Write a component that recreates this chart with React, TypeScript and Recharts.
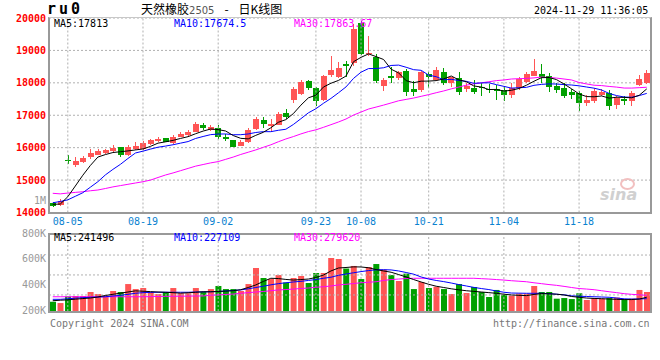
import React from 'react';
import { ComposedChart, Bar, Line, XAxis, YAxis, CartesianGrid, ReferenceLine, Cell } from 'recharts';

// trading days shown on the chart
const dates = ['08-01','08-02','08-05','08-06','08-07','08-08','08-09','08-12','08-13','08-14','08-15','08-16','08-19','08-20','08-21','08-22','08-23','08-26','08-27','08-28','08-29','08-30','09-02','09-03','09-04','09-05','09-06','09-09','09-10','09-11','09-12','09-13','09-18','09-19','09-20','09-23','09-24','09-25','09-26','09-27','09-30','10-08','10-09','10-10','10-11','10-14','10-15','10-16','10-17','10-18','10-21','10-22','10-23','10-24','10-25','10-28','10-29','10-30','10-31','11-01','11-04','11-05','11-06','11-07','11-08','11-11','11-12','11-13','11-14','11-15','11-18','11-19','11-20','11-21','11-22','11-25','11-26','11-27','11-28','11-29'];

const opens = [14280,14220,15620,15475,15560,15720,15785,15830,15910,16020,15780,15960,15970,16120,16215,16290,16155,16340,16390,16485,16700,16540,16615,16330,16236,16050,16184,16585,16853,16668,16699,17069,17470,17655,18055,17828,17470,18240,18188,18590,18600,19850,18880,18785,17900,18210,18140,18365,17810,17770,18280,18100,18330,18010,18160,17810,17850,17870,17820,17800,17780,17630,17850,18040,18215,18280,18210,17900,17850,17720,17690,17380,17440,17625,17690,17330,17500,17440,17930,18010];
const highs = [14330,14410,15770,15700,15750,15960,15970,15970,16080,16020,16080,16160,16200,16270,16330,16300,16400,16470,16545,16790,16770,16690,16700,16410,16250,16250,16600,16955,16955,16883,17090,17183,17880,18090,18086,17880,18240,18835,18650,18680,19800,19900,19450,18880,18138,18477,18380,18420,18050,18365,18345,18500,18450,18190,18340,17985,18100,17980,17960,17930,17880,17985,18190,18340,18730,18580,18290,17980,17985,17800,17760,17620,17830,17800,17790,17590,17580,17760,18240,18395];
const lows = [14180,14210,15490,15410,15520,15640,15780,15800,15860,15720,15750,15930,15930,16090,16175,16170,16120,16320,16340,16470,16545,16500,16280,16195,16020,16040,16150,16545,16620,16492,16688,16893,17368,17620,17778,17284,17440,18188,18138,18188,18530,18850,18840,17995,17747,17985,18080,17600,17600,17707,17830,18050,17930,17880,17630,17725,17650,17590,17700,17480,17450,17540,17780,18000,18200,17990,17725,17690,17520,17500,17140,17290,17390,17590,17160,17200,17330,17290,17900,17960];
const closes = [14210,14365,15590,15590,15690,15825,15905,15925,15990,15770,16010,16060,16150,16236,16265,16175,16315,16430,16470,16730,16615,16630,16338,16258,16030,16184,16544,16883,16730,16720,17038,16955,17810,18034,17850,17448,18210,18395,18466,18528,19660,18880,18930,18045,18085,18160,18320,17727,17725,18330,18170,18395,17990,18170,17730,17900,17725,17830,17780,17750,17640,17850,18110,18280,18365,18190,17880,17780,17600,17630,17390,17480,17750,17725,17295,17530,17450,17695,18110,18310];

const ma5 = [14253,14260,14487,14817,15150,15450,15710,15787,15850,15875,15900,15930,15960,16040,16140,16180,16225,16285,16340,16430,16512,16575,16557,16514,16374,16288,16271,16380,16474,16612,16783,16865,17051,17311,17537,17619,17870,17987,18074,18209,18652,18786,18893,18809,18720,18420,18308,18067,18003,18052,18054,18069,18122,18211,18091,18037,17903,17871,17793,17797,17745,17770,17826,17926,18049,18159,18165,18099,17963,17816,17656,17576,17570,17595,17528,17556,17550,17539,17616,17813];
const ma10 = [14300,14340,14390,14500,14610,14780,14950,15160,15330,15486,15666,15836,15892,15956,16014,16049,16090,16140,16188,16284,16345,16402,16420,16423,16399,16400,16423,16468,16494,16493,16536,16568,16715,16893,17075,17201,17368,17519,17693,17873,18136,18328,18440,18441,18465,18536,18547,18480,18406,18386,18237,18189,18095,18107,18072,18046,17986,17997,18002,17944,17891,17837,17849,17860,17923,17952,17968,17963,17945,17933,17908,17871,17835,17779,17672,17606,17563,17555,17606,17674];
const ma30 = [14592,14575,14600,14620,14641,14670,14694,14740,14790,14830,14870,14910,14950,15000,15080,15157,15220,15290,15360,15430,15480,15530,15570,15640,15710,15790,15860,15930,16010,16088,16182,16268,16342,16424,16496,16550,16627,16709,16792,16884,17005,17099,17192,17252,17313,17379,17446,17489,17531,17584,17636,17695,17750,17814,17870,17928,17967,17999,18034,18068,18088,18118,18128,18136,18153,18178,18167,18146,18118,18088,18012,17965,17926,17915,17889,17868,17839,17838,17851,17864];

// volume, thousands of lots
const volumesK = [272,262,313,317,317,348,332,319,356,348,410,371,379,348,332,348,379,338,338,379,348,371,395,371,371,356,410,535,457,449,480,422,457,473,418,496,496,613,605,531,551,449,543,566,522,480,434,491,371,426,379,389,371,332,410,340,387,348,309,364,325,319,335,335,395,348,348,296,301,293,338,286,301,296,301,305,290,296,364,348];
const volMa5 = [280,284,287,292,297,301,309,321,330,339,348,357,354,351,348,346,343,339,342,346,350,350,352,355,358,366,383,403,430,455,453,446,441,445,449,461,480,512,535,539,544,543,537,523,512,502,484,465,445,426,408,393,383,373,365,358,353,348,343,338,331,325,322,320,329,336,334,331,325,313,307,301,298,296,293,291,289,289,293,307];
const volMa10 = [291,291,295,300,304,307,309,311,317,322,330,338,343,345,346,346,346,346,346,348,349,350,352,356,360,364,373,383,393,404,413,420,426,431,438,445,455,463,478,488,498,507,515,521,522,520,512,500,487,465,449,438,429,418,406,395,384,375,367,356,346,340,339,338,338,338,335,331,326,318,315,313,311,309,307,301,295,293,294,296];
const volMa30 = [311,311,311,311,311,311,311,311,311,311,311,311,311,312,313,314,315,315,316,317,317,323,325,329,332,338,343,348,352,358,364,367,371,375,379,385,389,395,403,408,414,420,424,428,438,445,449,453,455,455,455,455,455,455,455,455,455,452,449,445,441,436,432,428,420,413,406,400,392,383,375,371,366,358,350,343,335,330,326,322];

const dateLabels = ['08-05','08-19','09-02','09-23','10-08','10-21','11-04','11-18'];
const priceTicks = [14000, 15000, 16000, 17000, 18000, 19000, 20000];
const volTicks = [200, 400, 600, 800];
const volGridLevels = [636, 481, 325];

const RED = '#ff5555';
const GREEN = '#00a000';
const GRID = '#b0b0b0';
const FRAME = '#999999';
const MONO = "'DejaVu Sans Mono', monospace";

const data = dates.map((date, i) => ({
  date,
  open: opens[i],
  high: highs[i],
  low: lows[i],
  close: closes[i],
  range: [lows[i], highs[i]],
  ma5: ma5[i],
  ma10: ma10[i],
  ma30: ma30[i],
  vol: volumesK[i],
  vma5: volMa5[i],
  vma10: volMa10[i],
  vma30: volMa30[i],
}));

const Candle = (props: any) => {
  const { x, y, width, height, payload } = props;
  if (!payload) return null;
  const { open, close, high, low } = payload;
  const color = close >= open ? RED : GREEN;
  const top = height >= 0 ? y : y + height;
  const h = Math.abs(height);
  const k = h / (high - low || 1);
  const yo = top + (high - open) * k;
  const yc = top + (high - close) * k;
  const bodyTop = Math.min(yo, yc);
  const bodyH = Math.max(1, Math.abs(yc - yo));
  const cx = Math.floor(x + width / 2) + 0.5;
  return (
    <g shapeRendering="crispEdges">
      <line x1={cx} x2={cx} y1={top} y2={top + h} stroke={color} strokeWidth={1} />
      <rect x={Math.round(x)} y={bodyTop} width={Math.round(width)} height={bodyH} fill={color} />
    </g>
  );
};

const txt = (left: number, top: number, color: string, children: React.ReactNode, extra: React.CSSProperties = {}) => (
  <div style={{ position: 'absolute', left, top, color, fontFamily: MONO, fontSize: 10, lineHeight: '12px', whiteSpace: 'pre', ...extra }}>
    {children}
  </div>
);

export default function App() {
  return (
    <div style={{ position: 'fixed', left: 0, top: 0, width: 660, height: 360, background: '#fff', overflow: 'hidden' }}>
      {/* header */}
      <div style={{ position: 'absolute', left: 47, top: 2, fontFamily: MONO, fontWeight: 'bold', fontSize: 15, letterSpacing: 3, lineHeight: '15px', color: '#000' }}>ru0</div>
      <div style={{ position: 'absolute', left: 141, top: 2, fontFamily: "'Noto Sans CJK SC', sans-serif", fontSize: 12, lineHeight: '14px', color: '#000', whiteSpace: 'pre' }}>
        天然橡胶<span style={{ fontFamily: "'DejaVu Sans', sans-serif", fontSize: 10, color: '#555' }}>2505</span>
        <span style={{ display: 'inline-block', width: 24, textAlign: 'center' }}>-</span>日K线图
      </div>
      {txt(534, 5, '#000', '2024-11-29 11:36:05')}

      {/* price panel */}
      <div style={{ position: 'absolute', left: 0, top: 0 }}>
        <ComposedChart width={660} height={235} data={data} margin={{ top: 18, right: 9.5, left: 0, bottom: 0 }}>
          <CartesianGrid vertical={false} stroke={GRID} strokeDasharray="2 2" />
          {dateLabels.map(d => (
            <ReferenceLine key={d} x={d} stroke={GRID} strokeDasharray="2 2" />
          ))}
          <XAxis
            dataKey="date"
            height={22.5}
            interval={0}
            axisLine={false}
            tickLine={false}
            tickSize={0}
            tickMargin={5}
            tick={{ fill: '#0a82d0', fontSize: 10, fontFamily: MONO }}
            tickFormatter={(d: string) => (dateLabels.includes(d) ? d : '')}
          />
          <YAxis
            width={49}
            domain={[14000, 20000]}
            ticks={priceTicks}
            interval={0}
            allowDataOverflow
            axisLine={false}
            tickLine={false}
            tickSize={0}
            tickMargin={3}
            tick={{ fill: '#ff0000', fontSize: 10, fontFamily: MONO, fontWeight: 'bold' }}
          />
          <Bar dataKey="range" barSize={6} shape={Candle} isAnimationActive={false} />
          <Line dataKey="ma30" stroke="#ff00ff" strokeWidth={1} dot={false} activeDot={false} isAnimationActive={false} />
          <Line dataKey="ma10" stroke="#0000ff" strokeWidth={1} dot={false} activeDot={false} isAnimationActive={false} />
          <Line dataKey="ma5" stroke="#000000" strokeWidth={1} dot={false} activeDot={false} isAnimationActive={false} />
        </ComposedChart>
      </div>
      <div style={{ position: 'absolute', left: 48, top: 17, width: 604, height: 197, boxSizing: 'border-box', borderLeft: `2px solid ${FRAME}`, borderRight: `2px solid ${FRAME}`, borderBottom: `2px solid ${FRAME}`, borderTop: `1px solid #c8c8c8` }} />
      {txt(54, 18, '#000', 'MA5:17813')}
      {txt(174, 18, '#0000ff', 'MA10:17674.5')}
      {txt(294, 18, '#ff00ff', 'MA30:17863.67')}
      {txt(34, 195, '#999', '1M')}
      <div style={{ position: 'absolute', left: 600, top: 186, color: '#d0d0d0', fontFamily: "'DejaVu Sans', sans-serif", fontStyle: 'italic', fontWeight: 'bold', fontSize: 16, lineHeight: '18px' }}>
        <span style={{ position: 'absolute', left: 20, top: -8, width: 11, height: 8, borderRadius: '50%', border: '2px solid #f2c0c0' }} />
        sina
      </div>

      {/* volume panel */}
      <div style={{ position: 'absolute', left: 0, top: 225 }}>
        <ComposedChart width={660} height={96} data={data} margin={{ top: 9, right: 9.5, left: 0, bottom: 10 }}>
          {volGridLevels.map(v => (
            <ReferenceLine key={v} y={v} stroke={GRID} strokeDasharray="2 2" />
          ))}
          {dateLabels.map(d => (
            <ReferenceLine key={d} x={d} stroke={GRID} strokeDasharray="2 2" />
          ))}
          <XAxis dataKey="date" hide />
          <YAxis
            width={49}
            domain={[200, 800]}
            ticks={volTicks}
            interval={0}
            allowDataOverflow
            axisLine={false}
            tickLine={false}
            tickSize={0}
            tickMargin={3}
            tickFormatter={(v: number) => `${v}K`}
            tick={{ fill: '#999', fontSize: 10, fontFamily: MONO, dy: -1 }}
          />
          <Bar dataKey="vol" barSize={6} isAnimationActive={false}>
            {data.map((d, i) => (
              <Cell key={i} fill={d.close >= d.open ? RED : GREEN} />
            ))}
          </Bar>
          <Line dataKey="vma30" stroke="#ff00ff" strokeWidth={1} dot={false} activeDot={false} isAnimationActive={false} />
          <Line dataKey="vma10" stroke="#0000ff" strokeWidth={1} dot={false} activeDot={false} isAnimationActive={false} />
          <Line dataKey="vma5" stroke="#000000" strokeWidth={1} dot={false} activeDot={false} isAnimationActive={false} />
        </ComposedChart>
      </div>
      <div style={{ position: 'absolute', left: 48, top: 233, width: 604, height: 80, boxSizing: 'border-box', border: `2px solid ${FRAME}` }} />
      {txt(54, 232, '#000', 'MA5:241496')}
      {txt(174, 232, '#0000ff', 'MA10:227109')}
      {txt(294, 232, '#ff00ff', 'MA30:279620')}

      {/* footer */}
      {txt(50, 318, '#777', 'Copyright 2024 SINA.COM')}
      {txt(493, 318, '#777', 'http://finance.sina.com.cn')}
    </div>
  );
}
